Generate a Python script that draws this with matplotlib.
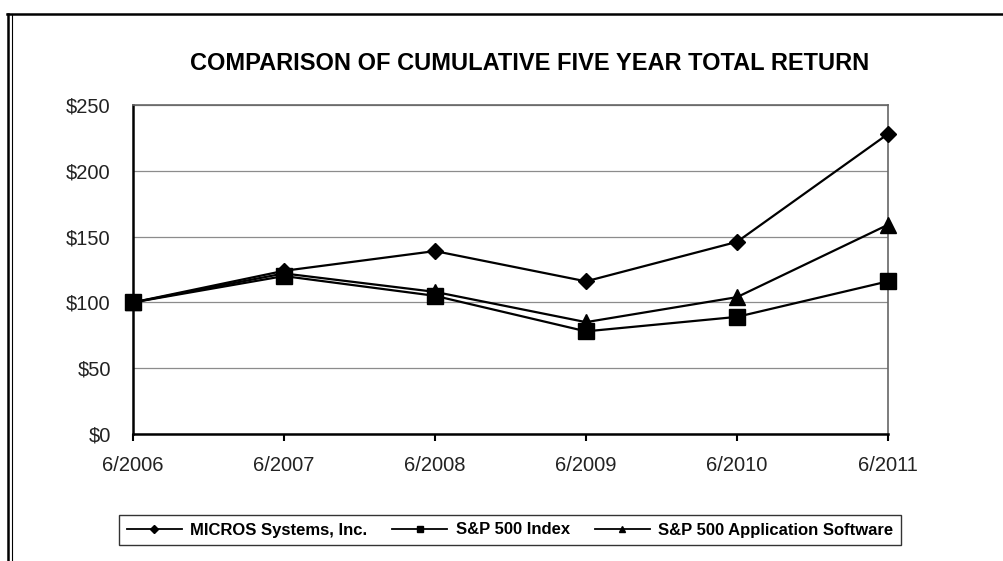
import matplotlib
matplotlib.use("Agg")
import matplotlib.pyplot as plt
from matplotlib.lines import Line2D

plt.rcParams['font.family'] = ['Liberation Sans', 'DejaVu Sans']

years = ["6/2006", "6/2007", "6/2008", "6/2009", "6/2010", "6/2011"]
micros = [100, 124, 139, 116, 146, 228]
sp500 = [100, 120, 105, 78, 89, 116]
sp_app = [100, 122, 108, 85, 104, 159]
yticks = [0, 50, 100, 150, 200, 250]

W, H = 1004, 561
fig = plt.figure(figsize=(W / 100, H / 100), dpi=100)

# plot area in pixel coordinates of the reference
left, right, top, bottom = 133, 888, 105, 434
ax = fig.add_axes([left / W, 1 - bottom / H, (right - left) / W, (bottom - top) / H])

x = list(range(len(years)))
ax.plot(x, micros, color='black', lw=1.6, marker='D', ms=8, zorder=5, clip_on=False)
ax.plot(x, sp500, color='black', lw=1.6, marker='s', ms=12, zorder=4, clip_on=False)
ax.plot(x, sp_app, color='black', lw=1.6, marker='^', ms=11, zorder=4, clip_on=False)

ax.set_xlim(0, len(years) - 1)
ax.set_ylim(0, 250)
ax.set_xticks(x)
ax.set_xticklabels(years)
ax.set_yticks(yticks)
ax.set_yticklabels(["$%d" % v for v in yticks])
ax.yaxis.grid(True, color='#8c8c8c', lw=0.9)
ax.set_axisbelow(True)
ax.tick_params(axis='x', direction='out', length=5, width=1.5, pad=11,
               labelsize=14.5, labelcolor='#222222')
ax.tick_params(axis='y', length=0, pad=16, labelsize=14.5, labelcolor='#222222')

for side in ['left', 'bottom']:
    ax.spines[side].set_color('black')
    ax.spines[side].set_linewidth(1.8)
for side in ['top', 'right']:
    ax.spines[side].set_color('#666666')
    ax.spines[side].set_linewidth(1.2)

fig.text(530 / W, 1 - 63 / H, "COMPARISON OF CUMULATIVE FIVE YEAR TOTAL RETURN",
         ha='center', va='center', fontsize=17, fontweight='bold')

handles = [
    Line2D([], [], color='black', lw=1.3, marker='D', ms=4),
    Line2D([], [], color='black', lw=1.3, marker='s', ms=5),
    Line2D([], [], color='black', lw=1.3, marker='^', ms=5),
]
labels = ["MICROS Systems, Inc.", "S&P 500 Index", "S&P 500 Application Software"]
leg = fig.legend(handles, labels, loc='center', bbox_to_anchor=(510 / W, 1 - 530 / H),
                 ncol=3, frameon=True, fancybox=False, edgecolor='black',
                 prop={'weight': 'bold', 'size': 12}, handlelength=3.3,
                 columnspacing=1.5, handletextpad=0.5, borderpad=0.45)
leg.get_frame().set_linewidth(1.0)

# outer frame: thick top line and double left line
fig.add_artist(Line2D([7 / W, 1], [1 - 13.5 / H, 1 - 13.5 / H], color='black', lw=1.8))
fig.add_artist(Line2D([8.5 / W, 8.5 / W], [1 - 13.5 / H, 0], color='black', lw=1.8))
fig.add_artist(Line2D([12 / W, 12 / W], [1 - 14 / H, 0], color='black', lw=0.8))

fig.savefig("out.png", dpi=100)
